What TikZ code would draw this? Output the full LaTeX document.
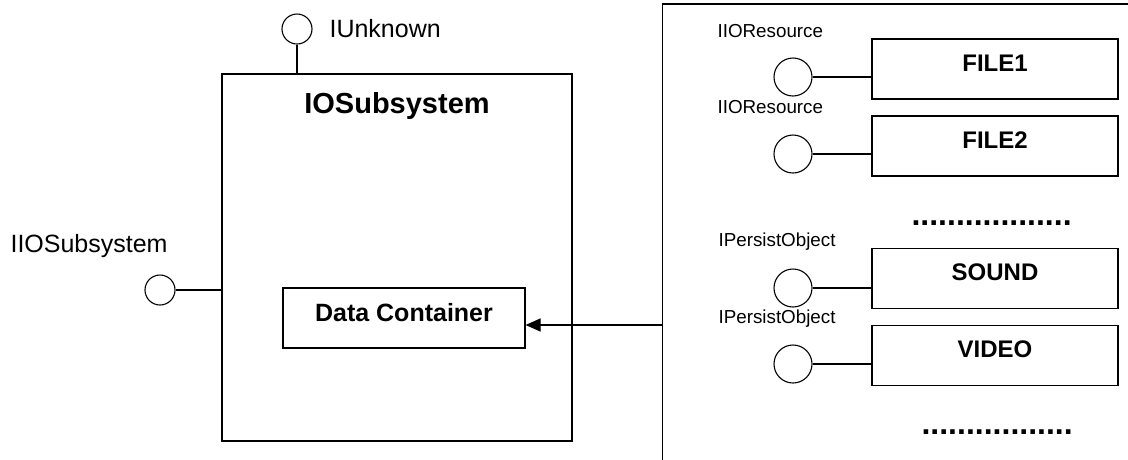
\documentclass[tikz,border=0pt]{standalone}
\usepackage{fontspec}
\setmainfont{Liberation Sans}
\usetikzlibrary{arrows.meta}
\begin{document}
\begin{tikzpicture}[x=1pt, y=-1pt, line width=1.1pt,
  lbl/.style={inner sep=0pt, anchor=base west, font=\fontsize{25}{29}\selectfont},
  smlbl/.style={inner sep=0pt, anchor=base west, font=\fontsize{18.8}{22}\selectfont},
  boxtext/.style={inner sep=0pt, anchor=base, font=\bfseries\fontsize{24}{28}\selectfont},
  dotrow/.style={inner sep=0pt, anchor=base west, font=\bfseries\fontsize{32}{36}\selectfont},
  compbox/.style={draw, rectangle, inner sep=0pt, minimum width=#1},
  resbox/.style={compbox=246pt, minimum height=60pt},
  bigsock/.style={draw, circle, inner sep=0pt, minimum size=30pt},
  sock/.style={draw, circle, inner sep=0pt, minimum size=38pt},
  tip/.style={-{Triangle[length=15pt, width=13pt]}}]
\useasboundingbox (0,0) rectangle (1128,459);

% --- IOSubsystem component -------------------------------------------
\node[compbox=350pt, minimum height=367pt] (sub) at (397,257.5) {};
\node[inner sep=0pt, anchor=base, font=\bfseries\fontsize{29}{34}\selectfont]
  (subt) at (397,113) {IOSubsystem};

\node[bigsock] (iunk) at (297,29) {};
\node[lbl] (iunkt) at (329,37) {IUnknown};
\draw (iunk.south) -- (iunk.south |- sub.north);

\node[bigsock] (iio) at (160,290) {};
\node[lbl] (iiot) at (10,252) {IIOSubsystem};
\draw (iio.east) -- (iio.east -| sub.west);

\node[compbox=242pt, minimum height=60pt] (dc) at (404,318) {};
\node[boxtext, font=\bfseries\fontsize{25}{29}\selectfont] (dct) at (404,321) {Data Container};

% --- resource panel ----------------------------------------------------
\coordinate (panelbl) at (662.5,470);
\coordinate (paneltl) at (662.5,4);
\coordinate (paneltr) at (1140,4);
\draw (panelbl) -- (paneltl) -- (paneltr);
\coordinate (pin) at (662.5,325);
\draw[tip] (pin) -- (pin -| dc.east);

% FILE1
\node[smlbl] (l1) at (717,37) {IIOResource};
\node[resbox] (f1) at (995,69) {};
\node[boxtext] (f1t) at (995,71) {FILE1};
\node[sock] (s1) at (793,77) {};
\draw (s1.east) -- (s1.east -| f1.west);

% FILE2
\node[smlbl] (l2) at (717,113) {IIOResource};
\node[resbox] (f2) at (995,146) {};
\node[boxtext] (f2t) at (995,148) {FILE2};
\node[sock] (s2) at (793,154) {};
\draw (s2.east) -- (s2.east -| f2.west);

\node[dotrow] (d1) at (911,225) {..................};

% SOUND
\node[smlbl] (l3) at (718,246) {IPersistObject};
\node[resbox] (f3) at (995,278.5) {};
\node[boxtext] (f3t) at (995,280) {SOUND};
\node[sock] (s3) at (793,288) {};
\draw (s3.east) -- (s3.east -| f3.west);

% VIDEO
\node[smlbl] (l4) at (718,323) {IPersistObject};
\node[resbox] (f4) at (995,355.5) {};
\node[boxtext] (f4t) at (995,357) {VIDEO};
\node[sock] (s4) at (793,364) {};
\draw (s4.east) -- (s4.east -| f4.west);

\node[dotrow] (d2) at (921,434) {.................};
\end{tikzpicture}
\end{document}
